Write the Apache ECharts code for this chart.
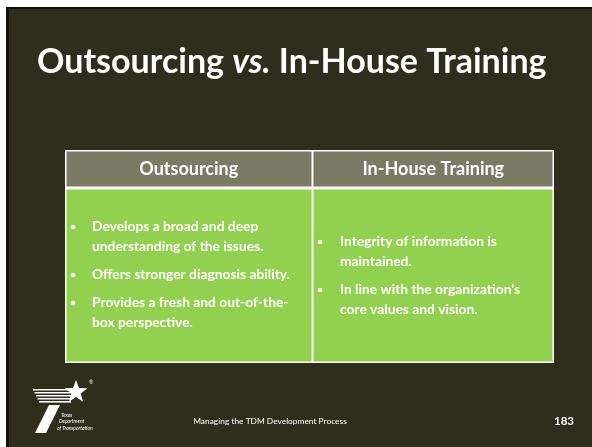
<!DOCTYPE html>
<html><head><meta charset="utf-8">
<script src="https://cdn.jsdelivr.net/npm/echarts@6/dist/echarts.min.js"></script>
<style>html,body{margin:0;padding:0;background:#fff;}#c{width:592px;height:447px;}</style>
</head><body><div id="c"></div>
<script>
const titleParts = ["Outsourcing ", "vs.", " In-House Training"];
const headers = ["Outsourcing", "In-House Training"];
const bulletsLeft = [
  ["Develops a broad and deep", "understanding of the issues."],
  ["Offers stronger diagnosis ability."],
  ["Provides a fresh and out-of-the-", "box perspective."]
];
const bulletsRight = [
  ["Integrity of information is", "maintained."],
  ["In line with the organization\u2019s", "core values and vision."]
];
const footerText = "Managing the TDM Development Process";
const pageNumber = "183";
const logoText = ["Texas", "Department", "of Transportation"];

const FONT = "Lato";
const BG = "#2f2d1c", HEAD = "#7b7a65", GREEN = "#92d050";
const chart = echarts.init(document.getElementById('c'), null, {renderer:'canvas'});
const g = [];
g.push({type:'rect', shape:{x:0,y:0,width:592,height:447}, style:{fill:'#fff'}});
g.push({type:'rect', shape:{x:6,y:7,width:586,height:440}, style:{fill:'#111'}});
g.push({type:'rect', shape:{x:9,y:9,width:583,height:438}, style:{fill:BG}});

// title
g.push({type:'text', x:37, y:62, style:{rich:{n:{fontFamily:FONT,fontWeight:'bold',fontSize:34,fill:'#fff'}, i:{fontFamily:FONT,fontWeight:'bold',fontStyle:'italic',fontSize:34,fill:'#fff'}},
  text:'{n|'+titleParts[0]+'}{i|'+titleParts[1]+'}{n|'+titleParts[2]+'}', verticalAlign:'middle', align:'left'}});

// table
const tx0=65, tx1=554, tmid=312.5, ty0=150, thead=188, ty1=363;
g.push({type:'rect', shape:{x:tx0,y:ty0,width:tx1-tx0,height:ty1-ty0}, style:{fill:'#fff'}});
g.push({type:'rect', shape:{x:tx0+1.5,y:ty0+1.5,width:tmid-tx0-2.5,height:thead-ty0-3}, style:{fill:HEAD}});
g.push({type:'rect', shape:{x:tmid+1,y:ty0+1.5,width:tx1-tmid-2.5,height:thead-ty0-3}, style:{fill:HEAD}});
g.push({type:'rect', shape:{x:tx0+1.5,y:thead+1.5,width:tmid-tx0-2.5,height:ty1-thead-3}, style:{fill:GREEN}});
g.push({type:'rect', shape:{x:tmid+1,y:thead+1.5,width:tx1-tmid-2.5,height:ty1-thead-3}, style:{fill:GREEN}});
g.push({type:'text', x:(tx0+tmid)/2, y:169, style:{text:headers[0], fontFamily:FONT, fontWeight:'bold', fontSize:18, fill:'#fff', align:'center', verticalAlign:'middle'}});
g.push({type:'text', x:(tmid+tx1)/2, y:169, style:{text:headers[1], fontFamily:FONT, fontWeight:'bold', fontSize:18, fill:'#fff', align:'center', verticalAlign:'middle'}});

function bullets(list, bx, txx, y0){
  let y=y0;
  list.forEach(lines=>{
    g.push({type:'circle', shape:{cx:bx, cy:y, r:2.3}, style:{fill:'#fff'}});
    lines.forEach(l=>{
      g.push({type:'text', x:txx, y:y, style:{text:l, fontFamily:FONT, fontWeight:'bold', fontSize:13.8, fill:'#fff', align:'left', verticalAlign:'middle'}});
      y+=20;
    });
    y+=8;
  });
}
bullets(bulletsLeft, 73, 92, 227);
bullets(bulletsRight, 320, 340, 242);

// footer
g.push({type:'text', x:270, y:421, style:{text:footerText, fontFamily:FONT, fontSize:8.4, fill:'#fff', align:'center', verticalAlign:'middle'}});
g.push({type:'text', x:564, y:421, style:{text:pageNumber, fontFamily:FONT, fontWeight:'bold', fontSize:11.5, fill:'#fff', align:'center', verticalAlign:'middle'}});

// logo
function star(cx,cy,R,r){const p=[];for(let k=0;k<10;k++){const a=-Math.PI/2+k*Math.PI/5;const rr=k%2?r:R;p.push([cx+rr*Math.cos(a),cy+rr*Math.sin(a)]);}return p;}
g.push({type:'polygon', shape:{points:star(76,392,12,5)}, style:{fill:'#fff'}});
for(let k=0;k<5;k++){
  g.push({type:'rect', shape:{x:33+k*1.5,y:389+k*3,width:38-k*1.5,height:1.6}, style:{fill:'#fff'}});
}
g.push({type:'polygon', shape:{points:[[49,405],[60,405],[46,433],[35,433]]}, style:{fill:'#fff'}});
g.push({type:'text', x:91, y:382, style:{text:'\u00ae', fontFamily:FONT, fontSize:5, fill:'#fff', align:'center', verticalAlign:'middle'}});
logoText.forEach((t,i)=>{
  g.push({type:'text', x:61-i*2, y:415+i*6.5, style:{text:t, fontFamily:FONT, fontStyle:'italic', fontSize:5, fill:'#fff', align:'left', verticalAlign:'middle'}});
});

chart.setOption({animation:false, graphic:{elements:g}});
</script></body></html>
